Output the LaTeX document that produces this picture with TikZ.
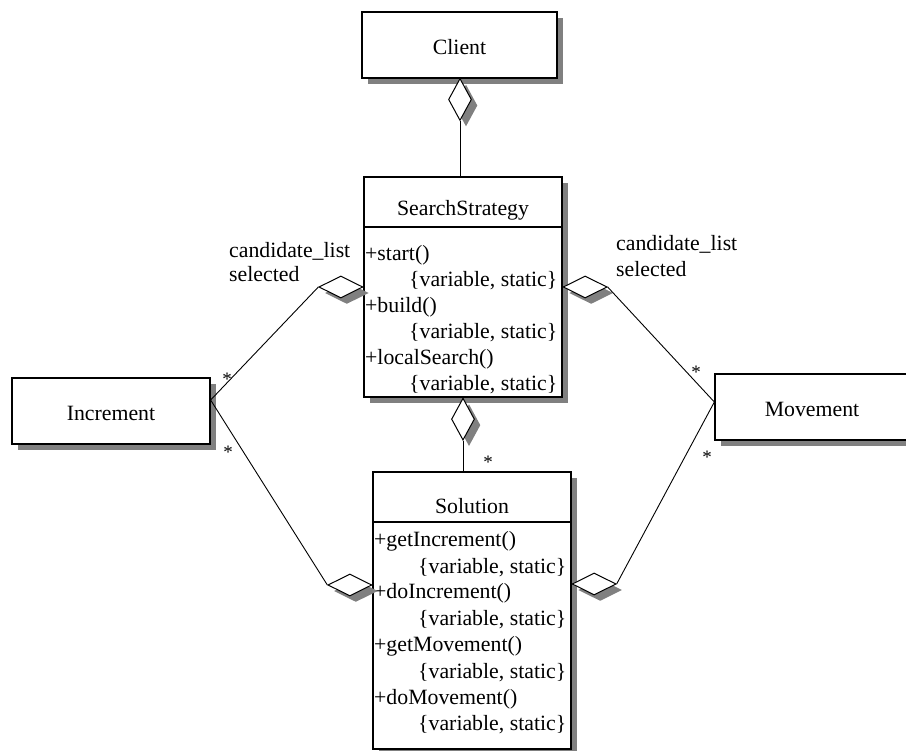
\documentclass[tikz,border=0pt]{standalone}
\usepackage{fontspec}
\setmainfont{Liberation Serif}
\usetikzlibrary{shapes.geometric,shadows,calc}
\definecolor{shadowgray}{RGB}{128,128,128}

\begin{document}
\begin{tikzpicture}[x=1pt,y=-1pt,
  font=\fontsize{21.8}{26}\selectfont,
  shade/.style={drop shadow={shadow xshift=6pt,shadow yshift=-6pt,fill=shadowgray,opacity=1}},
  classbox/.style={rectangle,draw,line width=1.3pt,fill=white,inner sep=0pt,shade},
  vagg/.style={diamond,draw,line width=1pt,fill=white,inner sep=0pt,
    minimum width=23pt,minimum height=42pt,shade},
  hagg/.style={diamond,draw,line width=1pt,fill=white,inner sep=0pt,
    minimum width=44pt,minimum height=22pt,shade},
  conn/.style={draw,line width=0.9pt},
  sepline/.style={draw,line width=1.1pt},
  meth/.style={anchor=west,inner sep=1pt},
  prop/.style={anchor=west,inner sep=0pt},
  mult/.style={anchor=base,inner sep=0pt},
  role/.style={anchor=west,inner sep=0pt}]

\useasboundingbox (0,0) rectangle (906,751);
\clip (0,0) rectangle (906,751);

% Client
\node[classbox,minimum width=195pt,minimum height=66pt] (client) at (459.5,45) {};
\node (clientname) at (459.5,47) {Client};
\node[vagg,anchor=north] (dclient) at (460,78) {};

% SearchStrategy
\node[classbox,minimum width=198pt,minimum height=220pt] (ss) at (463,287) {};
\node (ssname) at (463,210) {SearchStrategy};
\draw[sepline] (ss.west |- 0,227) -- (ss.east |- 0,227);
\node[meth] (ss1) at (364,255) {+start()};
\node[prop] (ss1p) at (409,281) {\{variable, static\}};
\node[meth] (ss2) at (364,307) {+build()};
\node[prop] (ss2p) at (409,333) {\{variable, static\}};
\node[meth] (ss3) at (364,359) {+localSearch()};
\node[prop] (ss3p) at (409,385) {\{variable, static\}};

% Solution
\node[classbox,minimum width=198pt,minimum height=277pt] (sol) at (472,610.5) {};
\node (solname) at (472,506) {Solution};
\draw[sepline] (sol.west |- 0,522) -- (sol.east |- 0,522);
\node[meth] (so1) at (373,541) {+getIncrement()};
\node[prop] (so1p) at (418,567.3) {\{variable, static\}};
\node[meth] (so2) at (373,593.6) {+doIncrement()};
\node[prop] (so2p) at (418,619.9) {\{variable, static\}};
\node[meth] (so3) at (373,646.2) {+getMovement()};
\node[prop] (so3p) at (418,672.5) {\{variable, static\}};
\node[meth] (so4) at (373,698.8) {+doMovement()};
\node[prop] (so4p) at (418,725.1) {\{variable, static\}};

% Increment and Movement
\node[classbox,minimum width=198pt,minimum height=66pt] (inc) at (111,411) {};
\node (incname) at (111,413) {Increment};
\node[classbox,minimum width=194pt,minimum height=66pt] (mov) at (812,407) {};
\node (movname) at (812,409) {Movement};

% aggregation diamonds
\node[vagg,anchor=north] (dss) at (ss.south) {};
\node[hagg,anchor=east] (dsl) at (ss.west |- 0,287) {};
\node[hagg,anchor=west] (dsr) at (ss.east |- 0,287) {};
\node[hagg,anchor=east] (dol) at (sol.west |- 0,585) {};
\node[hagg,anchor=west] (dor) at (sol.east |- 0,584) {};

% connection points on Increment and Movement
\coordinate (incp) at (inc.east |- 0,400);
\coordinate (movp) at (mov.west |- 0,402);

% connectors
\draw[conn] (dclient.south) -- (dclient.south |- ss.north);
\draw[conn] (dss.south) -- (dss.south |- sol.north);
\draw[conn] (dsl.west) -- (incp) -- (dol.west);
\draw[conn] (dsr.east) -- (movp) -- (dor.east);

% role names
\node[role] (rl1) at (229,251) {candidate\_list};
\node[role] (rl2) at (229,274) {selected};
\node[role] (rr1) at (616,244) {candidate\_list};
\node[role] (rr2) at (616,269) {selected};

% multiplicities
\node[mult,font=\fontsize{19}{26}\selectfont] (s1) at (227,386) {*};
\node[mult,font=\fontsize{19}{26}\selectfont] (s2) at (228,459) {*};
\node[mult,font=\fontsize{19}{26}\selectfont] (s3) at (696,379) {*};
\node[mult,font=\fontsize{19}{26}\selectfont] (s4) at (707,464) {*};
\node[mult,font=\fontsize{19}{26}\selectfont] (s5) at (488,469) {*};
\end{tikzpicture}
\end{document}
